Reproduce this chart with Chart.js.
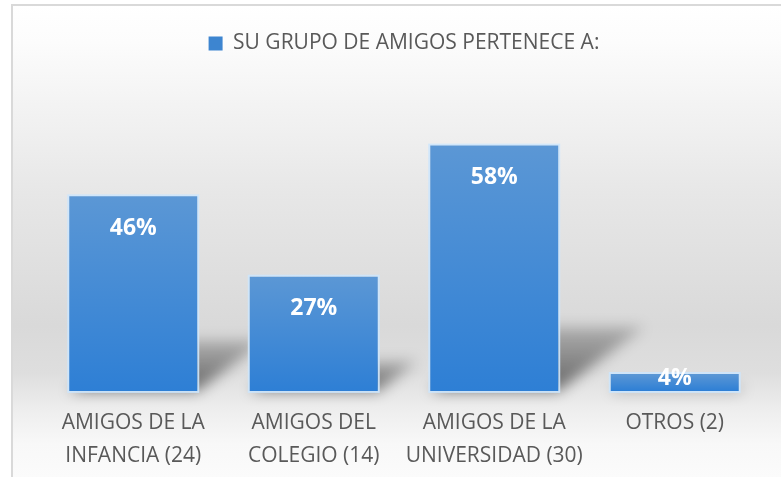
<!DOCTYPE html>
<html>
<head>
<meta charset="utf-8">
<script src="https://cdn.jsdelivr.net/npm/chart.js@4"></script>
<style>
    html, body { margin: 0; padding: 0; background: #fff; }
    #wrap { position: relative; width: 781px; height: 477px; }
</style>
</head>
<body>
<div id="wrap"><canvas id="chartAmigos"></canvas></div>
<script>
const categories = [
    ['AMIGOS DE LA', 'INFANCIA (24)'],
    ['AMIGOS DEL', 'COLEGIO (14)'],
    ['AMIGOS DE LA', 'UNIVERSIDAD (30)'],
    'OTROS (2)'
];
const percentages = [46, 27, 58, 4];
const seriesLabel = 'SU GRUPO DE AMIGOS PERTENECE A:';

const textColor = '#595959';

// frame + soft grey background like the office chart
const backgroundPlugin = {
    id: 'frameBackground',
    beforeDraw(chart) {
        const ctx = chart.ctx;
        const w = chart.width, h = chart.height;
        const grad = ctx.createLinearGradient(0, 4, 0, h);
        grad.addColorStop(0, '#ffffff');
        grad.addColorStop(0.08, '#fcfcfc');
        grad.addColorStop(0.2, '#f4f4f4');
        grad.addColorStop(0.4, '#e7e7e7');
        grad.addColorStop(0.68, '#d9d9d9');
        grad.addColorStop(0.78, '#dedede');
        grad.addColorStop(0.86, '#eeeeee');
        grad.addColorStop(0.93, '#f8f8f8');
        grad.addColorStop(1, '#fbfbfb');
        ctx.save();
        ctx.fillStyle = grad;
        ctx.fillRect(11, 4, w, h);
        ctx.strokeStyle = '#d9d9d9';
        ctx.lineWidth = 2;
        ctx.beginPath();
        ctx.moveTo(12, h + 5);
        ctx.lineTo(12, 5);
        ctx.lineTo(w + 5, 5);
        ctx.stroke();
        ctx.restore();
    }
};

// skewed drop shadow behind each bar + light halo
const shadowPlugin = {
    id: 'barShadows',
    beforeDatasetsDraw(chart) {
        const ctx = chart.ctx;
        const meta = chart.getDatasetMeta(0);
        ctx.save();
        ctx.filter = 'blur(7px)';
        meta.data.forEach(bar => {
            const left = bar.x - bar.width / 2;
            const right = bar.x + bar.width / 2;
            const h = bar.base - bar.y;
            const dx = h * 0.35, dy = h * 0.26;
            const g = ctx.createLinearGradient(0, bar.base, 0, bar.base - dy);
            g.addColorStop(0, 'rgba(0,0,0,0.55)');
            g.addColorStop(1, 'rgba(0,0,0,0.2)');
            ctx.fillStyle = g;
            ctx.beginPath();
            ctx.moveTo(left, bar.base);
            ctx.lineTo(right, bar.base);
            ctx.lineTo(right + dx, bar.base - dy);
            ctx.lineTo(left + dx, bar.base - dy);
            ctx.closePath();
            ctx.fill();
        });
        ctx.filter = 'none';
        ctx.strokeStyle = 'rgba(205,230,252,0.9)';
        ctx.lineWidth = 2;
        meta.data.forEach(bar => {
            const left = bar.x - bar.width / 2;
            ctx.strokeRect(left - 1, bar.y - 1, bar.width + 2, bar.base - bar.y + 2);
        });
        ctx.restore();
    }
};

const valueLabelPlugin = {
    id: 'valueLabels',
    afterDatasetsDraw(chart) {
        const ctx = chart.ctx;
        const meta = chart.getDatasetMeta(0);
        ctx.save();
        ctx.font = 'bold 23px "Open Sans"';
        ctx.fillStyle = '#ffffff';
        ctx.textAlign = 'center';
        ctx.textBaseline = 'middle';
        meta.data.forEach((bar, i) => {
            const y = Math.min(bar.y + 32, (bar.y + bar.base) / 2 - 4);
            ctx.fillText(percentages[i] + '%', bar.x, y);
        });
        ctx.restore();
    }
};

function barFill(context) {
    const chart = context.chart;
    if (!chart.chartArea) return '#3c84cf';
    const yScale = chart.scales.y;
    const top = yScale.getPixelForValue(context.parsed ? context.parsed.y : 0);
    const bottom = yScale.getPixelForValue(0);
    const g = chart.ctx.createLinearGradient(0, top, 0, bottom);
    g.addColorStop(0, '#5b97d5');
    g.addColorStop(1, '#2e7fd5');
    return g;
}

new Chart(document.getElementById('chartAmigos').getContext('2d'), {
    type: 'bar',
    data: {
        labels: categories,
        datasets: [{
            label: seriesLabel,
            data: percentages,
            backgroundColor: barFill,
            borderWidth: 0,
            barPercentage: 0.709,
            categoryPercentage: 1
        }]
    },
    options: {
        responsive: true,
        maintainAspectRatio: false,
        animation: false,
        layout: {
            padding: {top: 23, left: 43, right: 16, bottom: -11}
        },
        scales: {
            x: {
                grid: {display: false, drawTicks: false},
                border: {display: false},
                ticks: {
                    color: textColor,
                    padding: 16,
                    maxRotation: 0,
                    autoSkip: false,
                    font: {family: '"Open Sans"', size: 21, lineHeight: 1.55}
                }
            },
            y: {
                display: false,
                min: 0,
                max: 77.3
            }
        },
        plugins: {
            tooltip: {enabled: false},
            legend: {
                position: 'top',
                labels: {
                    boxWidth: 14,
                    boxHeight: 14,
                    padding: 10,
                    color: textColor,
                    font: {family: '"Open Sans"', size: 21},
                    generateLabels: chart => [{
                        text: seriesLabel,
                        fillStyle: '#3d85d0',
                        strokeStyle: '#3d85d0',
                        lineWidth: 0,
                        fontColor: textColor,
                        datasetIndex: 0
                    }]
                }
            }
        }
    },
    plugins: [backgroundPlugin, shadowPlugin, valueLabelPlugin]
});
</script>
</body>
</html>
